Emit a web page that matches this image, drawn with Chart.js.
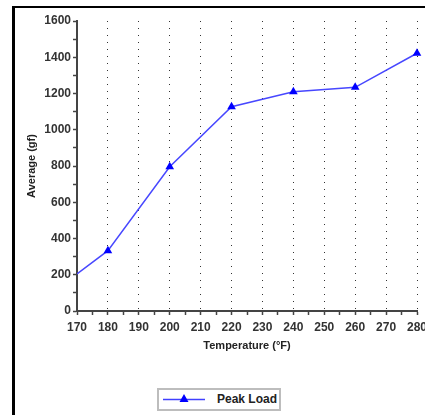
<!DOCTYPE html>
<html>
<head>
<meta charset="utf-8">
<script src="https://cdn.jsdelivr.net/npm/chart.js@4"></script>
<style>
  html, body { margin: 0; padding: 0; background: #fff; overflow: hidden; }
  #frame { position: absolute; left: 12px; top: 6px; width: 600px; height: 600px;
           border-left: 3px solid #000; border-top: 2px solid #000; }
  #wrap { position: absolute; left: 0; top: 0; width: 440px; height: 415px; }
  #legend { position: absolute; left: 157px; top: 388px; width: 120px; height: 19px;
            border: 2px solid #bdbdbd; background: #fff;
            font: bold 12px "Liberation Sans", Arial, sans-serif; color: #222; }
  #legend svg { position: absolute; left: 4px; top: 2px; }
  #legend span { position: absolute; left: 58px; top: 2px; }
</style>
</head>
<body>
<div id="frame"></div>
<div id="wrap"><canvas id="linechart" width="440" height="415"></canvas></div>
<div id="legend">
  <svg width="44" height="14"><line x1="0" y1="7.5" x2="42" y2="7.5" stroke="#4040ff" stroke-width="1.5"/><polygon points="21,2 25.5,10 16.5,10" fill="#0000ff"/></svg>
  <span id="legendText"></span>
</div>
<script>
// valores
const temperatures = [170, 180, 200, 220, 240, 260, 280];
const peakLoad = [205, 333, 796, 1127, 1210, 1234, 1422];
const seriesName = 'Peak Load';

document.getElementById('legendText').textContent = seriesName;

const font = { family: '"Liberation Sans", Arial, sans-serif', size: 12, weight: 'bold' };

const ctx = document.getElementById('linechart');

new Chart(ctx, {
  type: 'line',
  data: {
    datasets: [{
      label: seriesName,
      data: temperatures.map((t, i) => ({ x: t, y: peakLoad[i] })),
      borderColor: '#4747ff',
      borderWidth: 1.5,
      pointStyle: 'triangle',
      pointRadius: c => c.dataIndex === 0 ? 0 : 5,
      pointBackgroundColor: '#0000ff',
      pointBorderColor: '#0000ff',
      pointBorderWidth: 0,
      tension: 0,
      clip: { left: 0, top: false, right: false, bottom: false }
    }]
  },
  options: {
    responsive: false,
    animation: false,
    layout: { padding: { left: 21, right: 23, top: 21, bottom: 58 } },
    scales: {
      x: {
        type: 'linear',
        min: 170,
        max: 280,
        afterFit: s => { s.height = 46; },
        ticks: {
          stepSize: 5,
          autoSkip: false,
          maxRotation: 0,
          padding: 5,
          color: '#333',
          font: font,
          callback: v => v % 10 === 0 ? v : ''
        },
        grid: {
          color: c => (c.tick && c.tick.value % 10 === 0 && c.tick.value !== 170) ? '#333' : 'rgba(0,0,0,0)',
          lineWidth: 1,
          tickColor: '#444',
          tickLength: 4,
          tickWidth: 1.5,
          tickBorderDash: []
        },
        border: { color: '#444', width: 2, dash: [1, 6] },
        title: { display: true, text: 'Temperature (°F)', color: '#222', font: { family: font.family, size: 11, weight: 'bold' }, padding: 4 }
      },
      y: {
        min: 0,
        max: 1600,
        afterFit: s => { s.width = 56; },
        ticks: {
          stepSize: 100,
          autoSkip: false,
          padding: 2,
          color: '#333',
          font: font,
          callback: v => v % 200 === 0 ? v : ''
        },
        grid: {
          drawOnChartArea: false,
          tickColor: '#444',
          tickLength: 4,
          tickWidth: 1.5
        },
        border: { color: '#444', width: 2 },
        title: { display: true, text: 'Average (gf)', color: '#222', font: { family: font.family, size: 11, weight: 'bold' }, padding: 4 }
      }
    },
    plugins: {
      legend: { display: false },
      tooltip: { enabled: false }
    }
  }
});
</script>
</body>
</html>
